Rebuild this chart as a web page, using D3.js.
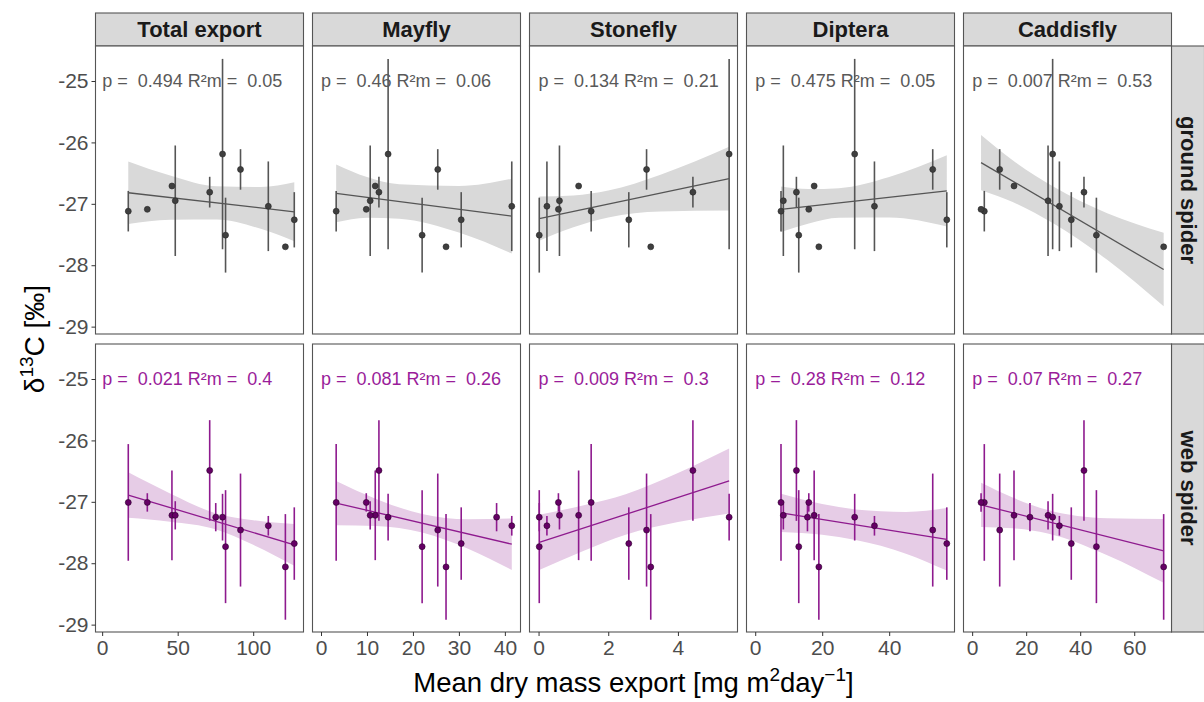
<!DOCTYPE html>
<html>
<head>
<meta charset="utf-8">
<script src="https://cdn.jsdelivr.net/npm/d3@7"></script>
<style>
  body { margin: 0; background: #fff; }
  svg { display: block; font-family: "Liberation Sans", Arial, sans-serif; }
</style>
</head>
<body>
<svg id="chart" width="1204" height="702"></svg>
<script>
// ---- data -------------------------------------------------------------
const taxa = ["Total export", "Mayfly", "Stonefly", "Diptera", "Caddisfly"];
const spiders = ["ground spider", "web spider"];

// mean dry mass export per site, one array per taxon (same site order everywhere)
const exportTotal     = [17.3, 29.9, 46.2, 48.4, 71.2, 75.2, 79.7, 81.7, 91.6, 110.0, 121.3, 127.2];
const exportMayfly    = [3.3, 9.85, 11.8, 10.7, 12.6, 38.2, 14.6, 22.0, 25.4, 41.5, 27.2, 30.5];
const exportStonefly  = [1.51, 0.57, 1.15, 0.60, 4.43, 0.02, 5.47, 0.02, 3.10, 0.24, 3.22, 2.59];
const exportDiptera   = [7.7, 16.0, 17.6, 8.4, 12.3, 15.6, 29.7, 13.0, 53.0, 35.6, 19.0, 57.2];
const exportCaddisfly = [4.5, 3.3, 15.5, 28.1, 41.4, 21.4, 29.8, 46.0, 10.2, 32.3, 70.9, 36.7];

// spider d13C per site: mean and SD (null = no ground spider sampled)
const groundD13C = [-27.12, -27.09, -26.71, -26.95, -26.81, null, -26.19, -27.51, -26.44, -27.04, -27.70, -27.26];
const groundSD   = [0.33, 0, 0, 0.90, 0.25, null, 1.55, 0.61, 0.33, 0.73, 0, 0.45];
const webD13C    = [-27.01, -27.01, -27.22, -27.22, -26.49, -27.25, -27.25, -27.73, -27.46, -27.39, -28.06, -27.68];
const webSD      = [0.95, 0.15, 0.73, 0.23, 0.82, 0.23, 0.38, 0.92, 0.92, 0.16, 0.86, 0.59];

// mixed-model fits: line ends, and confidence band half-widths along x
const groundFitX  = [[17.3, 127.2], [3.3, 41.5], [0.02, 5.47], [7.7, 57.2], [3.3, 70.9]];
const groundFitY  = [[-26.82, -27.13], [-26.83, -27.20], [-27.24, -26.59], [-27.09, -26.79], [-26.33, -28.07]];
const groundBandX = [[17.3, 45, 76, 105, 127.2], [3.3, 10, 17, 30, 41.5], [0.02, 1.0, 2.0, 3.5, 5.47], [7.7, 16, 25, 40, 57.2], [3.3, 15, 30, 50, 70.9]];
const groundBandHW = [[0.51, 0.36, 0.27, 0.34, 0.48], [0.47, 0.33, 0.28, 0.38, 0.61], [0.36, 0.26, 0.22, 0.30, 0.52], [0.37, 0.28, 0.24, 0.33, 0.58], [0.45, 0.34, 0.30, 0.38, 0.60]];
const webFitX  = [[17.3, 127.2], [3.3, 41.5], [0.02, 5.47], [7.7, 57.2], [3.3, 70.9]];
const webFitY  = [[-26.89, -27.70], [-27.02, -27.69], [-27.66, -26.66], [-27.18, -27.61], [-27.05, -27.80]];
const webBandX = [[17.3, 45, 75, 100, 127.2], [3.3, 12, 22, 32, 41.5], [0.02, 1.3, 2.5, 4.0, 5.47], [7.7, 20, 30, 45, 57.2], [3.3, 15, 28, 50, 70.9]];
const webBandHW = [[0.37, 0.23, 0.13, 0.20, 0.34], [0.36, 0.22, 0.15, 0.24, 0.42], [0.45, 0.37, 0.33, 0.40, 0.53], [0.31, 0.25, 0.25, 0.34, 0.51], [0.36, 0.25, 0.19, 0.30, 0.52]];

// test statistics printed in each panel
const groundP  = ["0.494", "0.46", "0.134", "0.475", "0.007"];
const groundR2 = ["0.05", "0.06", "0.21", "0.05", "0.53"];
const webP     = ["0.021", "0.081", "0.009", "0.28", "0.07"];
const webR2    = ["0.4", "0.26", "0.3", "0.12", "0.27"];

// axis ticks
const xTicks = [[0, 50, 100], [0, 10, 20, 30, 40], [0, 2, 4], [0, 20, 40], [0, 20, 40, 60]];
const xDomains = [[-4.4, 133.3], [-1.85, 43.4], [-0.26, 5.71], [-2.6, 59.5], [-3.2, 73.8]];
const yTicks = [-25, -26, -27, -28, -29];
const yDomain = [-29.12, -24.43];

// ---- layout -----------------------------------------------------------
const exportByTaxon = [exportTotal, exportMayfly, exportStonefly, exportDiptera, exportCaddisfly];
const rows = [
  { name: spiders[0], y: groundD13C, sd: groundSD, fitX: groundFitX, fitY: groundFitY, bandX: groundBandX, bandHW: groundBandHW,
    p: groundP, r2: groundR2, col: "#555555", pointFill: "#3f3f3f", pointStroke: "#262626", band: "#d9d9d9", text: "#595959" },
  { name: spiders[1], y: webD13C, sd: webSD, fitX: webFitX, fitY: webFitY, bandX: webBandX, bandHW: webBandHW,
    p: webP, r2: webR2, col: "#8e1a8e", pointFill: "#650065", pointStroke: "#2a002a", band: "#e6cce6", text: "#9a1d9a" }
];

const panelW = 208, panelH = 288;
const panelLefts = [95.5, 312.5, 529.5, 746.5, 963.5];
const rowTops = [46, 344];
const stripH = 33;

const svg = d3.select("#chart");

const yScales = rowTops.map(t => d3.scaleLinear().domain(yDomain).range([t + panelH, t]));
const xScales = panelLefts.map((l, i) => d3.scaleLinear().domain(xDomains[i]).range([l, l + panelW]));

// column strips
taxa.forEach((t, i) => {
  const g = svg.append("g");
  g.append("rect").attr("x", panelLefts[i]).attr("y", rowTops[0] - stripH)
    .attr("width", panelW).attr("height", stripH)
    .attr("fill", "#d9d9d9").attr("stroke", "#555").attr("stroke-width", 1.1);
  g.append("text").attr("x", panelLefts[i] + panelW / 2).attr("y", rowTops[0] - stripH / 2)
    .attr("text-anchor", "middle").attr("dominant-baseline", "central")
    .attr("font-size", 22).attr("font-weight", "bold").attr("fill", "#1a1a1a").text(t);
});

// row strips
spiders.forEach((s, r) => {
  const x0 = panelLefts[4] + panelW;
  svg.append("rect").attr("x", x0).attr("y", rowTops[r]).attr("width", stripH).attr("height", panelH)
    .attr("fill", "#d9d9d9").attr("stroke", "#555").attr("stroke-width", 1.1);
  const cx = x0 + stripH / 2, cy = rowTops[r] + panelH / 2;
  svg.append("text").attr("transform", `translate(${cx},${cy}) rotate(90)`)
    .attr("text-anchor", "middle").attr("dominant-baseline", "central")
    .attr("font-size", 22).attr("font-weight", "bold").attr("fill", "#1a1a1a").text(s);
});

// panels
rows.forEach((row, r) => {
  const ys = yScales[r];
  taxa.forEach((t, c) => {
    const xs = xScales[c];
    const g = svg.append("g");
    g.append("rect").attr("x", panelLefts[c]).attr("y", rowTops[r]).attr("width", panelW).attr("height", panelH)
      .attr("fill", "#fff");

    // confidence band
    const slope = (row.fitY[c][1] - row.fitY[c][0]) / (row.fitX[c][1] - row.fitX[c][0]);
    const fitAt = x => row.fitY[c][0] + slope * (x - row.fitX[c][0]);
    const bandData = row.bandX[c].map((x, k) => ({ x, lo: fitAt(x) - row.bandHW[c][k], hi: fitAt(x) + row.bandHW[c][k] }));
    g.append("path").datum(bandData)
      .attr("d", d3.area().x(d => xs(d.x)).y0(d => ys(d.lo)).y1(d => ys(d.hi)).curve(d3.curveMonotoneX))
      .attr("fill", row.band);

    // regression line
    g.append("path").datum(row.fitX[c].map((x, k) => ({ x, y: row.fitY[c][k] })))
      .attr("d", d3.line().x(d => xs(d.x)).y(d => ys(d.y)))
      .attr("fill", "none").attr("stroke", row.col).attr("stroke-width", 1.3);

    const pts = exportByTaxon[c].map((x, k) => ({ x, y: row.y[k], sd: row.sd[k] })).filter(d => d.y !== null);

    // error bars (mean ± SD)
    g.selectAll("line.err").data(pts.filter(d => d.sd > 0)).join("line")
      .attr("x1", d => xs(d.x)).attr("x2", d => xs(d.x))
      .attr("y1", d => ys(d.y - d.sd)).attr("y2", d => ys(d.y + d.sd))
      .attr("stroke", row.col).attr("stroke-width", 1.6);

    // points
    g.selectAll("circle").data(pts).join("circle")
      .attr("cx", d => xs(d.x)).attr("cy", d => ys(d.y)).attr("r", 3)
      .attr("fill", row.pointFill).attr("stroke", row.pointStroke).attr("stroke-width", 0.6);

    // statistics label
    g.append("text").attr("x", xs(0)).attr("y", ys(-25))
      .attr("dominant-baseline", "central").attr("font-size", 18).attr("fill", row.text)
      .style("white-space", "pre")
      .text(`p =  ${row.p[c]} R²m =  ${row.r2[c]}`);

    // border
    g.append("rect").attr("x", panelLefts[c]).attr("y", rowTops[r]).attr("width", panelW).attr("height", panelH)
      .attr("fill", "none").attr("stroke", "#555").attr("stroke-width", 1.1);
  });

  // y axis on first column
  const ya = svg.append("g").attr("transform", `translate(${panelLefts[0]},0)`)
    .call(d3.axisLeft(ys).tickValues(yTicks).tickSize(4).tickPadding(3).tickFormat(d3.format("d")));
  ya.select(".domain").remove();
  ya.selectAll(".tick line").attr("stroke", "#333");
  ya.selectAll(".tick text").attr("font-size", 21).attr("fill", "#4d4d4d")
    .attr("font-family", "Liberation Sans, Arial, sans-serif").text(d => String(d).replace("−", "-"));
});

// x axes on the bottom row
taxa.forEach((t, c) => {
  const xa = svg.append("g").attr("transform", `translate(0,${rowTops[1] + panelH})`)
    .call(d3.axisBottom(xScales[c]).tickValues(xTicks[c]).tickSize(4).tickPadding(4).tickFormat(d3.format("d")));
  xa.select(".domain").remove();
  xa.selectAll(".tick line").attr("stroke", "#333");
  xa.selectAll(".tick text").attr("font-size", 21).attr("fill", "#4d4d4d")
    .attr("font-family", "Liberation Sans, Arial, sans-serif");
});

// axis titles
const xt = svg.append("text").attr("x", (panelLefts[0] + panelLefts[4] + panelW) / 2).attr("y", 692)
  .attr("text-anchor", "middle").attr("font-size", 27.5).attr("fill", "#000");
xt.append("tspan").text("Mean dry mass export [mg m");
xt.append("tspan").attr("dy", -11).attr("font-size", 19).text("2");
xt.append("tspan").attr("dy", 11).text("day");
xt.append("tspan").attr("dy", -11).attr("font-size", 19).text("−1");
xt.append("tspan").attr("dy", 11).text("]");

const yt = svg.append("text")
  .attr("transform", `translate(44,${rowTops[0] + (rowTops[1] + panelH - rowTops[0]) / 2}) rotate(-90)`)
  .attr("text-anchor", "middle").attr("font-size", 28).attr("fill", "#000");
yt.append("tspan").text("δ");
yt.append("tspan").attr("dy", -11).attr("font-size", 19).text("13");
yt.append("tspan").attr("dy", 11).text("C [‰]");
</script>
</body>
</html>
